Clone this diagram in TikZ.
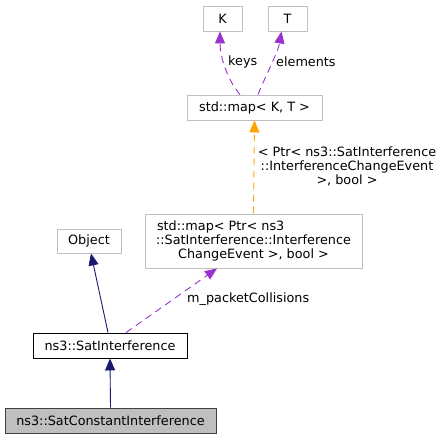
\documentclass[tikz,border=0pt]{standalone}
\usepackage{fontspec}
\setmainfont{DejaVu Sans}
\usetikzlibrary{arrows.meta}
\definecolor{navyc}{RGB}{25,25,112}
\definecolor{purplec}{RGB}{154,50,205}
\definecolor{orangec}{RGB}{255,165,0}
\definecolor{lgrey}{RGB}{191,191,191}
\definecolor{dgrey}{RGB}{64,64,64}
\tikzset{
  box/.style={draw=lgrey, line width=0.9pt, fill=white, inner sep=0pt, align=center,
    font=\fontsize{12.8}{14}\selectfont},
  mainbox/.style={box, draw=black},
  rootbox/.style={box, draw=dgrey, fill=lgrey},
  tip/.style={-{Triangle[length=12pt,width=10pt]}},
  inh/.style={tip, draw=navyc, line width=0.9pt},
  usep/.style={tip, draw=purplec, line width=0.9pt, dash pattern=on 7pt off 5pt},
  tmpl/.style={tip, draw=orangec, line width=0.9pt, dash pattern=on 7pt off 5pt},
  lbl/.style={inner sep=0pt, align=center, font=\fontsize{12.8}{14}\selectfont}
}
\begin{document}
\begin{tikzpicture}[x=1pt,y=-1pt]
\useasboundingbox (0,0) rectangle (444,440);
\node[box, minimum width=39pt, minimum height=25pt] (K) at (222.5,18.5) {K};
\node[box, minimum width=39pt, minimum height=25pt] (T) at (287.5,18.5) {T};
\node[box, minimum width=135pt, minimum height=25pt] (stdmap) at (254.5,107.5) {std::map< K, T >};
\node[box, minimum width=217pt, minimum height=54pt] (bigmap) at (253.5,241)
  {\makebox[193pt][l]{std::map< Ptr< ns3}\\::SatInterference::Interference\\ChangeEvent >, bool >};
\node[box, minimum width=64pt, minimum height=24pt] (obj) at (89,241) {Object};
\node[mainbox, minimum width=154pt, minimum height=25pt] (satint) at (110,345.5) {ns3::SatInterference};
\node[rootbox, minimum width=211pt, minimum height=25pt] (const) at (110.5,420.5) {ns3::SatConstantInterference};

\draw[inh] (const.north) -- (satint.south);
\draw[inh] ([xshift=-2pt]satint.north) -- ([xshift=2pt]obj.south);
\draw[usep] ([xshift=16pt]satint.north) -- ([xshift=-36.5pt]bigmap.south);
\node[lbl, anchor=west] (lpc) at (187,299) {m\_packetCollisions};
\draw[tmpl] (bigmap.north) -- (stdmap.south);
\node[lbl] (lorange) at (347,166) {< Ptr< ns3::SatInterference\\::InterferenceChangeEvent\\>, bool >};
\draw[usep] ([xshift=-14.5pt]stdmap.north) .. controls (226,78) and (220,55) .. ([xshift=-2.5pt]K.south);
\node[lbl, anchor=west] (lkeys) at (228,62) {keys};
\draw[usep] ([xshift=3.5pt]stdmap.north) .. controls (266,75) and (278,52) .. ([xshift=-6pt]T.south);
\node[lbl, anchor=west] (lel) at (276,62) {elements};
\end{tikzpicture}
\end{document}
